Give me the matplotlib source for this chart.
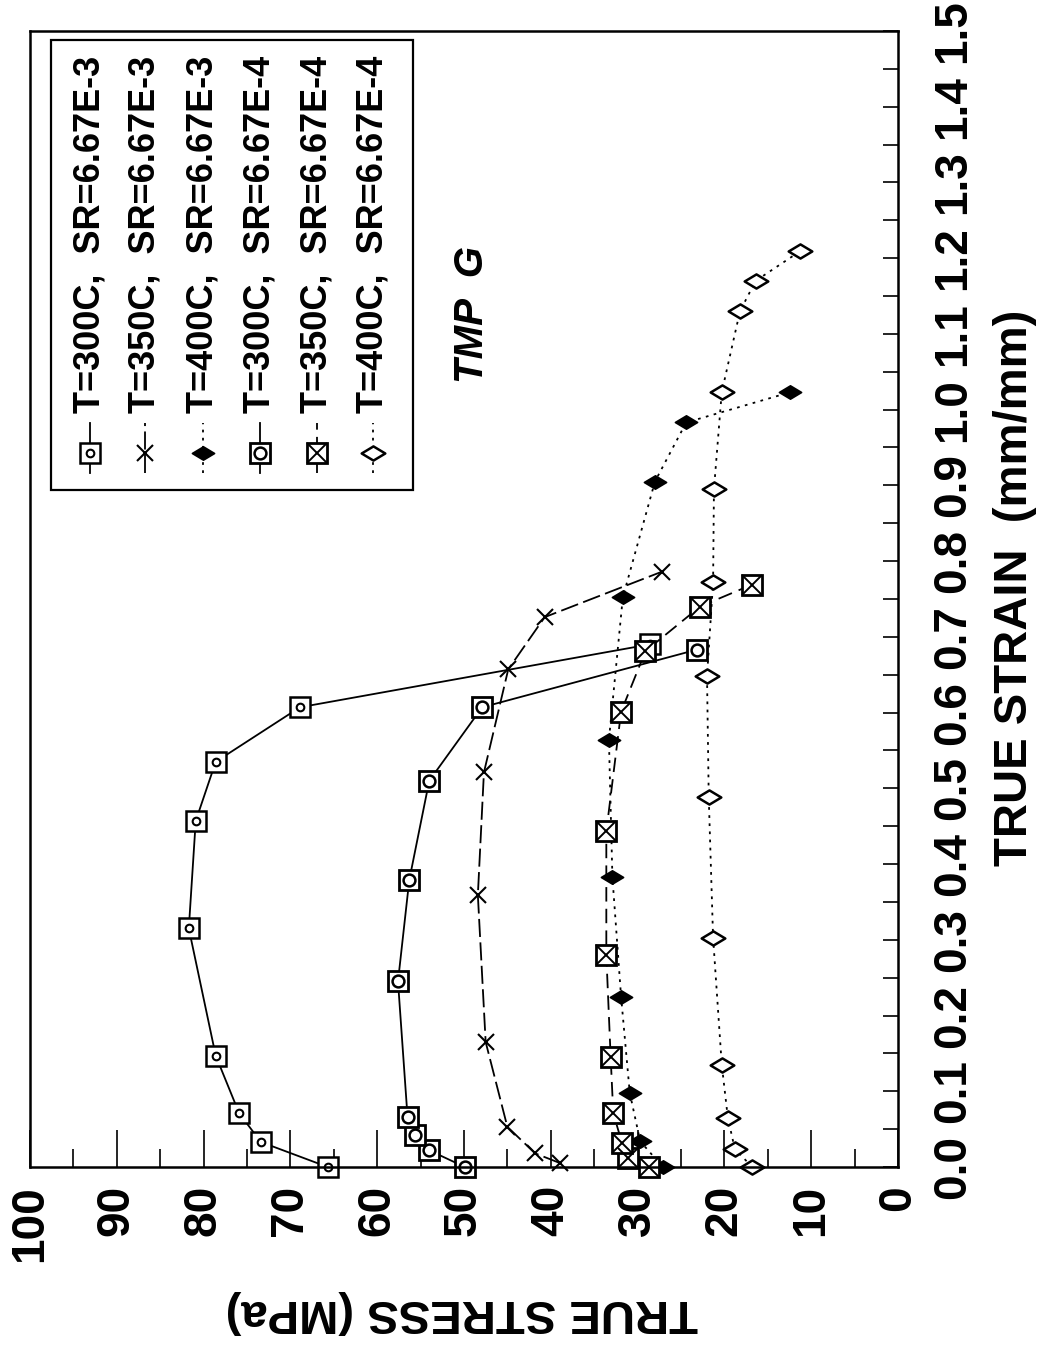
import numpy as np
import matplotlib
matplotlib.use("Agg")
import matplotlib.pyplot as plt
from matplotlib.patches import Rectangle
from matplotlib.path import Path

plt.rcParams['font.family'] = ['Liberation Sans', 'DejaVu Sans']
plt.rcParams['font.weight'] = 'bold'

# true strain (mm/mm) and true stress (MPa)
strain_300_hi = [0.0, 0.033, 0.071, 0.147, 0.315, 0.457, 0.535, 0.607, 0.690]
stress_300_hi = [65.7, 73.4, 75.9, 78.6, 81.7, 80.9, 78.6, 68.9, 28.6]

strain_350_hi = [0.005, 0.018, 0.053, 0.165, 0.359, 0.521, 0.657, 0.726, 0.786]
stress_350_hi = [38.9, 41.8, 45.0, 47.5, 48.4, 47.7, 44.9, 40.7, 27.2]

strain_400_hi = [0.0, 0.034, 0.098, 0.225, 0.383, 0.564, 0.752, 0.905, 0.983, 1.023]
stress_400_hi = [27.1, 29.7, 30.9, 31.9, 32.9, 33.3, 31.7, 28.0, 24.4, 12.4]

strain_300_lo = [0.0, 0.022, 0.042, 0.066, 0.245, 0.379, 0.510, 0.607, 0.683]
stress_300_lo = [49.9, 54.0, 55.6, 56.5, 57.6, 56.3, 54.0, 47.9, 23.2]

strain_350_lo = [0.0, 0.012, 0.032, 0.071, 0.145, 0.280, 0.443, 0.601, 0.681, 0.740, 0.769]
stress_350_lo = [28.7, 31.1, 31.8, 32.8, 33.1, 33.6, 33.6, 31.9, 29.1, 22.8, 16.8]

strain_400_lo = [0.0, 0.024, 0.065, 0.135, 0.303, 0.488, 0.648, 0.772, 0.895, 1.023, 1.130, 1.170, 1.209]
stress_400_lo = [16.8, 18.8, 19.6, 20.3, 21.3, 21.8, 22.0, 21.3, 21.2, 20.3, 18.2, 16.4, 11.3]

labels = ["T=300C,  SR=6.67E-3", "T=350C,  SR=6.67E-3", "T=400C,  SR=6.67E-3",
          "T=300C,  SR=6.67E-4", "T=350C,  SR=6.67E-4", "T=400C,  SR=6.67E-4"]

stress_ticks = list(range(0, 101, 10))
strain_ticks = [round(0.1 * i, 1) for i in range(16)]

# squashed diamond marker
diamond = Path([(-1, 0), (0, 0.6), (1, 0), (0, -0.6), (-1, 0)],
               [Path.MOVETO, Path.LINETO, Path.LINETO, Path.LINETO, Path.CLOSEPOLY])


def draw_marks(ax, xs, ys, kind, **kw):
    if kind == 'sq_dot':
        ax.plot(xs, ys, 's', ms=14, mfc='white', mec='k', mew=1.8, **kw)
        ax.plot(xs, ys, 'o', ms=5.5, mfc='white', mec='k', mew=1.5, **kw)
    elif kind == 'sq_ring':
        ax.plot(xs, ys, 's', ms=15, mfc='white', mec='k', mew=2.0, **kw)
        ax.plot(xs, ys, 'o', ms=8.5, mfc='white', mec='k', mew=1.8, **kw)
    elif kind == 'sq_x':
        ax.plot(xs, ys, 's', ms=15, mfc='white', mec='k', mew=2.0, **kw)
        ax.plot(xs, ys, 'x', ms=15, mec='k', mew=1.4, **kw)
    elif kind == 'x':
        ax.plot(xs, ys, 'x', ms=12, mec='k', mew=1.5, **kw)
    elif kind == 'dia_fill':
        ax.plot(xs, ys, marker=diamond, ls='none', ms=16, mfc='k', mec='k', mew=1.2, **kw)
    elif kind == 'dia_open':
        ax.plot(xs, ys, marker=diamond, ls='none', ms=17, mfc='white', mec='k', mew=1.8, **kw)


series = [
    (stress_300_hi, strain_300_hi, '-', 'sq_dot'),
    (stress_350_hi, strain_350_hi, (0, (10, 3)), 'x'),
    (stress_400_hi, strain_400_hi, (0, (1.5, 3)), 'dia_fill'),
    (stress_300_lo, strain_300_lo, '-', 'sq_ring'),
    (stress_350_lo, strain_350_lo, (0, (8, 4)), 'sq_x'),
    (stress_400_lo, strain_400_lo, (0, (1.5, 3)), 'dia_open'),
]

fig = plt.figure(figsize=(10.51, 13.51), dpi=100)
ax = fig.add_axes([0.0285, 0.1362, 0.8259, 0.8409])

for xs, ys, ls, kind in series:
    ax.plot(xs, ys, color='k', lw=1.3, ls=ls)
    draw_marks(ax, xs, ys, kind, clip_on=False)

ax.set_xlim(100, 0)
ax.set_ylim(0, 1.5)

ax.set_xticks(stress_ticks)
ax.set_xticks(range(5, 100, 10), minor=True)
ax.xaxis.set_ticks_position('bottom')
ax.tick_params(axis='x', which='major', direction='in', length=27, width=1.2,
               pad=13, labelsize=33, labelrotation=90)
ax.tick_params(axis='x', which='minor', direction='in', length=13, width=1.2)

ax.set_yticks(strain_ticks)
ax.set_yticklabels(['%.1f' % v for v in strain_ticks])
ax.set_yticks([v + 0.05 for v in strain_ticks[:-1]], minor=True)
ax.yaxis.tick_right()
ax.tick_params(axis='y', which='both', direction='in', length=11, width=1.2,
               pad=24, labelsize=33, labelrotation=90)
for lbl in ax.get_yticklabels():
    lbl.set_va('center')

for s in ax.spines.values():
    s.set_linewidth(1.8)

fig.text(1015 / 1051, 1 - 588 / 1351, 'TRUE STRAIN  (mm/mm)', rotation=90,
         ha='center', va='center', fontsize=34, fontweight='bold')
fig.text(462 / 1051, 1 - 1312 / 1351, 'TRUE STRESS (MPa)', rotation=180,
         ha='center', va='center', fontsize=34, fontweight='bold')

ax.text(0.509, 0.75, 'TMP  G', transform=ax.transAxes, rotation=90,
        ha='center', va='center', fontsize=29, fontweight='bold', style='italic')

# hand-made legend, rotated with the rest of the chart
ax.add_patch(Rectangle((0.024, 0.596), 0.417, 0.396, transform=ax.transAxes,
                       facecolor='white', edgecolor='k', lw=1.6, zorder=5))
legend_x = [0.069, 0.1325, 0.199, 0.265, 0.331, 0.395]
for lx, (xs, ys, ls, kind), lab in zip(legend_x, series, labels):
    ax.plot([lx, lx], [0.611, 0.655], color='k', lw=1.3, ls=ls,
            transform=ax.transAxes, zorder=6)
    draw_marks(ax, [lx], [0.6285], kind, transform=ax.transAxes, zorder=7)
    ax.text(lx, 0.664, lab, transform=ax.transAxes, rotation=90, ha='center',
            va='bottom', fontsize=26, fontweight='bold', zorder=7)

fig.savefig('out.png', dpi=100)
